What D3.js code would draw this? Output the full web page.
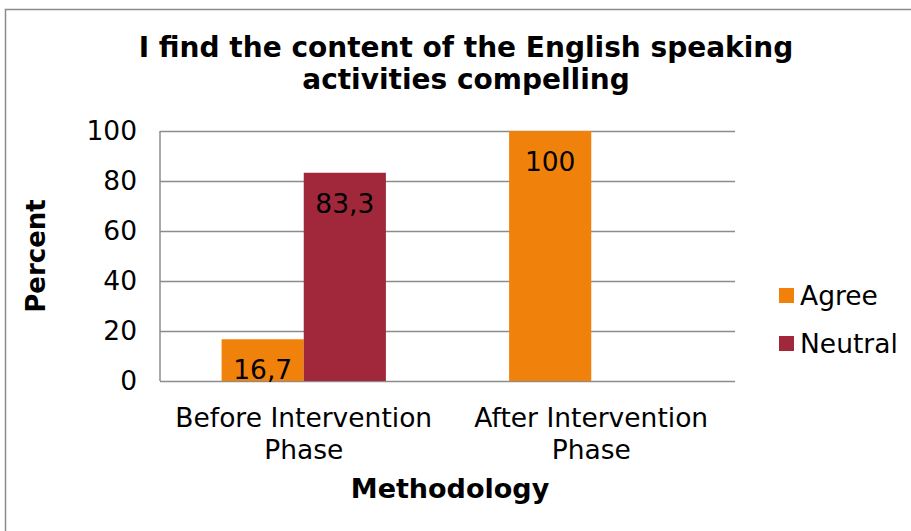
<!DOCTYPE html>
<html>
<head>
<meta charset="utf-8">
<script src="https://cdn.jsdelivr.net/npm/d3@7"></script>
<style>
  body { margin: 0; background: #fff; }
  text { font-family: "DejaVu Sans", Verdana, sans-serif; fill: #000; }
</style>
</head>
<body>
<svg id="chart"></svg>
<script>
const categories = ['Before Intervention Phase', 'After Intervention Phase']
const categoryLines = [['Before Intervention', 'Phase'], ['After Intervention', 'Phase']]
const seriesNames = ['Agree', 'Neutral']
const agree = [16.7, 100]
const neutral = [83.3, null]
const yTicks = [0, 20, 40, 60, 80, 100]
const colors = ['#F0820C', '#A0283A']

const W = 911, H = 531
const margin = {top: 131, bottom: 150, left: 160, right: 176}
const width = W - margin.left - margin.right
const height = H - margin.top - margin.bottom
const fs = '26.5px'

const svg = d3.select('#chart').attr('width', W).attr('height', H)

// outer frame
svg.append('rect').attr('x', 5.5).attr('y', 9.5).attr('width', W).attr('height', H)
  .attr('fill', 'none').attr('stroke', '#8c8c8c').attr('stroke-width', 1.5)

const g = svg.append('g').attr('transform', `translate(${margin.left},${margin.top})`)

const x0 = d3.scaleBand().domain(categories).range([0, width]).paddingInner(0).paddingOuter(0)
const x1 = d3.scaleBand().domain(seriesNames).range([0, x0.bandwidth()]).paddingInner(0).paddingOuter(0.75)
const y = d3.scaleLinear().domain([0, 100]).range([height, 0])

// gridlines
g.selectAll('.grid').data(yTicks).join('line')
  .attr('x1', 0).attr('x2', width)
  .attr('y1', d => Math.round(y(d)) + 0.5).attr('y2', d => Math.round(y(d)) + 0.5)
  .attr('stroke', '#8c8c8c').attr('stroke-width', 1.5)

// left axis line
g.append('line').attr('x1', 0).attr('x2', 0).attr('y1', 0).attr('y2', height)
  .attr('stroke', '#8c8c8c').attr('stroke-width', 1.5)

const yAxis = d3.axisLeft(y).tickValues(yTicks).tickSize(0).tickPadding(23)
const gy = g.append('g').call(yAxis)
gy.select('.domain').remove()
gy.selectAll('text').style('font-size', fs).style('font-family', '"DejaVu Sans", Verdana, sans-serif')

const data = categories.map((c, i) => ({cat: c, values: [
  {key: 'Agree', v: agree[i]}, {key: 'Neutral', v: neutral[i]}
].filter(d => d.v != null)}))

const groups = g.selectAll('.grp').data(data).join('g')
  .attr('transform', d => `translate(${x0(d.cat)},0)`)

groups.selectAll('rect').data(d => d.values).join('rect')
  .attr('x', d => x1(d.key))
  .attr('width', x1.bandwidth())
  .attr('y', d => y(d.v))
  .attr('height', d => height - y(d.v))
  .attr('fill', d => colors[seriesNames.indexOf(d.key)])

groups.selectAll('.lbl').data(d => d.values).join('text')
  .attr('x', d => x1(d.key) + x1.bandwidth() / 2)
  .attr('y', d => y(d.v) + 40)
  .attr('text-anchor', 'middle')
  .style('font-size', fs)
  .text(d => String(d.v).replace('.', ','))

// category labels
const xl = g.selectAll('.xl').data(categories).join('text')
  .attr('text-anchor', 'middle')
  .style('font-size', fs)
  .attr('transform', d => `translate(${x0(d) + x0.bandwidth() / 2},${height + 46})`)
xl.selectAll('tspan').data((d, i) => categoryLines[i]).join('tspan')
  .attr('x', 0).attr('dy', (d, i) => i === 0 ? 0 : 32).text(d => d)

// axis titles
svg.append('text').attr('x', 450).attr('y', 498)
  .attr('text-anchor', 'middle').style('font-size', '27px').style('font-weight', 'bold')
  .text('Methodology')
svg.append('text').attr('transform', `translate(45,${margin.top + height / 2}) rotate(-90)`)
  .attr('text-anchor', 'middle').style('font-size', '26px').style('font-weight', 'bold')
  .text('Percent')

// title
const title = svg.append('text').attr('text-anchor', 'middle').style('font-size', '28px').style('font-weight', 'bold')
title.append('tspan').attr('x', 466).attr('y', 57).text('I find the content of the English speaking')
title.append('tspan').attr('x', 466).attr('y', 89).text('activities compelling')

// legend
const legend = svg.append('g').attr('transform', 'translate(779,288)')
const li = legend.selectAll('g').data(seriesNames).join('g')
  .attr('transform', (d, i) => `translate(0,${i * 48})`)
li.append('rect').attr('width', 15).attr('height', 15).attr('fill', (d, i) => colors[i])
li.append('text').attr('x', 21).attr('y', 17).style('font-size', fs).text(d => d)
</script>
</body>
</html>
